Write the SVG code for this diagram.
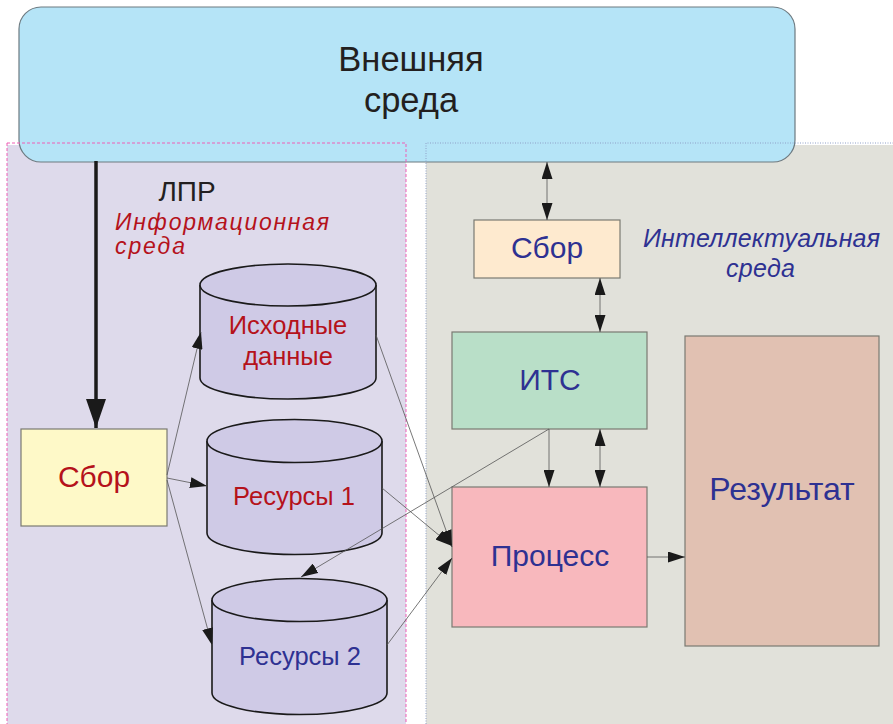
<svg xmlns="http://www.w3.org/2000/svg" width="893" height="724" viewBox="0 0 893 724">
<defs>
<style>
.t{font-family:"Liberation Sans",Arial,sans-serif;text-anchor:middle}
.it{font-family:"Liberation Sans",Arial,sans-serif;font-style:italic}
.red{fill:#b5121b}
.blue{fill:#2e3192}
.blk{fill:#231f20}
.box{stroke:#7a7a72;stroke-width:1.2}
.cyl{fill:#cfcae6;stroke:#1a1a1a;stroke-width:1.6}
.ln{fill:none;stroke:#555;stroke-width:0.8}
.a1{marker-end:url(#ah)}
.a2{marker-start:url(#ah);marker-end:url(#ah)}
</style>
<marker id="ah" viewBox="0 0 17 11" refX="17" refY="5.5" markerWidth="17" markerHeight="11" markerUnits="userSpaceOnUse" orient="auto-start-reverse">
<path d="M0,0 L17,5.5 L0,11 Z" fill="#1a1a1a"/>
</marker>
<marker id="big" viewBox="0 0 29 20" refX="29" refY="10" markerWidth="29" markerHeight="20" markerUnits="userSpaceOnUse" orient="auto">
<path d="M0,0 L29,10 L0,20 Z" fill="#1a1a1a"/>
</marker>
</defs>

<g id="info-region">
<rect x="7" y="145" width="399" height="590" fill="#dedaeb"/>
</g>
<g id="intel-region">
<rect x="426" y="145" width="470" height="590" fill="#e1e1da"/>
</g>

<g id="external">
<rect x="19" y="7" width="776" height="155" rx="22" ry="22" fill="#b5e4f7" stroke="#6d7a80" stroke-width="1.2"/>
<text class="t blk" x="411" y="71" font-size="34.5">Внешняя</text>
<text class="t blk" x="411" y="112" font-size="34.5">среда</text>
</g>

<g id="region-borders">
<rect x="7" y="143" width="399" height="600" fill="none" stroke="#ee5fb5" stroke-width="1" stroke-dasharray="3,2"/>
<path d="M426,724 V143 H893" fill="none" stroke="#8fa0c8" stroke-width="1" stroke-dasharray="1,1.5"/>
</g>

<g id="labels">
<text class="t blk" x="187" y="201" font-size="28">ЛПР</text>
<text class="it red" x="115" y="230" font-size="23" textLength="214" lengthAdjust="spacing">Информационная</text>
<text class="it red" x="115" y="254" font-size="23" textLength="70" lengthAdjust="spacing">среда</text>
<text class="it blue" x="643" y="247" font-size="25" textLength="237" lengthAdjust="spacing">Интеллектуальная</text>
<text class="it blue" x="726" y="277" font-size="25" textLength="69" lengthAdjust="spacing">среда</text>
</g>

<g id="sbor-left">
<rect class="box" x="21" y="429" width="146" height="97" fill="#fef9c8"/>
<text class="t red" x="94" y="487" font-size="30">Сбор</text>
</g>

<g id="ishodnye">
<path class="cyl" d="M200,285 V378 A88,21 0 0 0 376,378 V285"/>
<ellipse class="cyl" cx="288" cy="285" rx="88" ry="21"/>
<text class="t red" x="288" y="334" font-size="25.5">Исходные</text>
<text class="t red" x="288" y="365" font-size="25.5">данные</text>
</g>

<g id="resursy1">
<path class="cyl" d="M207,441 V533 A87.5,21.5 0 0 0 382,533 V441"/>
<ellipse class="cyl" cx="294.5" cy="441" rx="87.5" ry="21.5"/>
<text class="t red" x="294" y="505" font-size="25.5">Ресурсы 1</text>
</g>

<g id="resursy2">
<path class="cyl" d="M212,600 V693 A87.5,21.5 0 0 0 387,693 V600"/>
<ellipse class="cyl" cx="299.5" cy="600" rx="87.5" ry="21.5"/>
<text class="t blue" x="300" y="665" font-size="25.5">Ресурсы 2</text>
</g>

<g id="sbor-right">
<rect class="box" x="474" y="220" width="146" height="58" fill="#feeacf"/>
<text class="t blue" x="547" y="258" font-size="30">Сбор</text>
</g>

<g id="its">
<rect class="box" x="452" y="332" width="195" height="97" fill="#b9dfc8"/>
<text class="t blue" x="550" y="390" font-size="30">ИТС</text>
</g>

<g id="process">
<rect class="box" x="452" y="487" width="195" height="140" fill="#f8b8bd"/>
<text class="t blue" x="550" y="566" font-size="30">Процесс</text>
</g>

<g id="result">
<rect class="box" x="685" y="336" width="194" height="310" fill="#e1c1b2"/>
<text class="t blue" x="782" y="500" font-size="32">Результат</text>
</g>

<g id="connectors">
<line x1="96" y1="161" x2="96" y2="428" stroke="#1a1a1a" stroke-width="3.5" marker-end="url(#big)"/>
<line class="ln a1" x1="167" y1="475" x2="201" y2="332"/>
<line class="ln a1" x1="167" y1="478" x2="207" y2="486"/>
<line class="ln a1" x1="167" y1="480" x2="212" y2="645"/>
<line class="ln a1" x1="376" y1="335" x2="452" y2="547"/>
<line class="ln a1" x1="382" y1="488" x2="452" y2="546"/>
<line class="ln a1" x1="387" y1="645" x2="452" y2="558"/>
<line class="ln a1" x1="549" y1="429" x2="301" y2="577"/>
<line class="ln a2" x1="547" y1="162" x2="547" y2="220"/>
<line class="ln a2" x1="600" y1="278" x2="600" y2="332"/>
<line class="ln a1" x1="549" y1="429" x2="549" y2="487"/>
<line class="ln a2" x1="600" y1="429" x2="600" y2="487"/>
<line class="ln a1" x1="647" y1="557" x2="685" y2="557"/>
</g>
</svg>
